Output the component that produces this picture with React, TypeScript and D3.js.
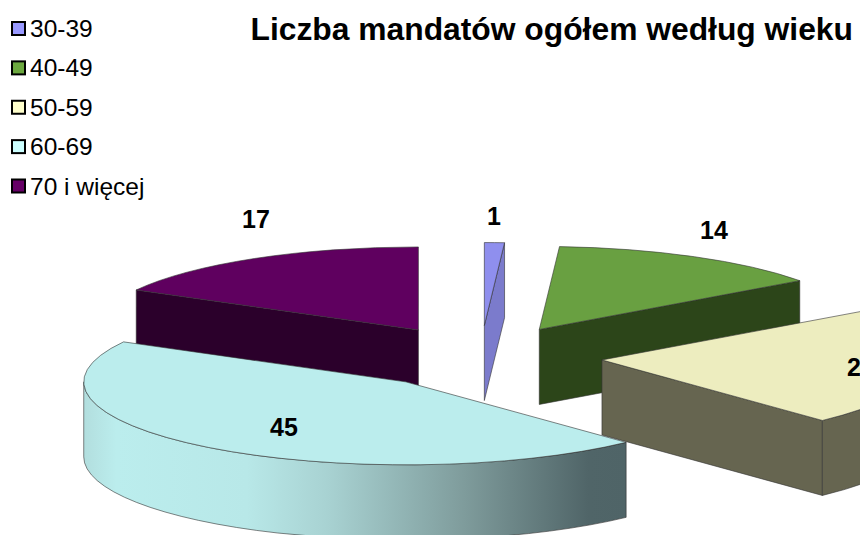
import React from "react";
import * as d3 from "d3";

// chart data
const categories = ["30-39", "40-49", "50-59", "60-69", "70 i więcej"];
const values = [1, 14, 23, 45, 17];
const topColors = ["#8F8FEE", "#69A041", "#EDEDBF", "#BBEDED", "#5F005F"];
const sideColors = ["#7B7BCC", "#2C4519", "#666550", "#4F6467", "#2B002B"];
const legendColors = ["#9999FF", "#6CA83F", "#FFFFCC", "#CCFFFF", "#660066"];
const drawOrder = [4, 0, 1, 2, 3];

// label anchors, [x, baseline y]
const labelPositions = [
  [494, 225],
  [714, 238.5],
  [847, 376],
  [284, 436],
  [256, 228],
];

const width = 860;
const height = 535;
const cx = 480.5;
const cy = 357;
const rx = 322;
const ry = 83;
const explode = 122;
const depth = 75;

const legendY = d3
  .scalePoint<string>()
  .domain(categories)
  .range([28.5, 186]);

const arcs = d3
  .pie<number>()
  .sort(null)
  .startAngle(0)
  .endAngle(2 * Math.PI)(values);

const project = (a: number, r = 1) => [
  r * rx * Math.sin(a),
  -r * ry * Math.cos(a),
];

const ellipseArc = (
  from: number[],
  to: number[],
  a0: number,
  a1: number,
  sweep: number
) => {
  const large = Math.abs(a1 - a0) > Math.PI ? 1 : 0;
  return `M${from[0]},${from[1]}A${rx},${ry} 0 ${large} ${sweep} ${to[0]},${to[1]}`;
};

const Slice = ({ arc, i }: { arc: d3.PieArcDatum<number>; i: number }) => {
  const { startAngle: a0, endAngle: a1 } = arc;
  const mid = (a0 + a1) / 2;
  const [ox, oy] = project(mid, explode / rx);
  const ax = cx + ox;
  const ay = cy + oy;
  const at = (a: number, dz = 0) => {
    const [x, y] = project(a);
    return [ax + x, ay + y + dz];
  };
  const p0 = at(a0);
  const p1 = at(a1);
  const top = `${ellipseArc(p0, p1, a0, a1, 1)}L${ax},${ay}Z`;

  const cutFace = (a: number) => {
    const p = at(a);
    return `M${ax},${ay}L${p[0]},${p[1]}L${p[0]},${p[1] + depth}L${ax},${ay + depth}Z`;
  };

  // only the front half of the rim can be seen
  const w0 = Math.max(a0, Math.PI / 2);
  const w1 = Math.min(a1, (3 * Math.PI) / 2);
  let wall: string | null = null;
  if (w1 > w0) {
    const f = at(w0);
    const t = at(w1);
    const tb = at(w1, depth);
    const fb = at(w0, depth);
    wall = `${ellipseArc(f, t, w0, w1, 1)}L${tb[0]},${tb[1]}${ellipseArc(
      tb,
      fb,
      w0,
      w1,
      0
    ).replace(/^M[^A]+/, "")}Z`;
  }

  const wallFill = i === 3 ? "url(#rimGradient)" : sideColors[i];
  const edge = { stroke: "#333", strokeWidth: 0.6, strokeLinejoin: "round" as const };

  return (
    <g>
      {Math.sin(a0) < -1e-6 && (
        <path d={cutFace(a0)} fill={sideColors[i]} {...edge} />
      )}
      {Math.sin(a1) > 1e-6 && (
        <path d={cutFace(a1)} fill={sideColors[i]} {...edge} />
      )}
      {wall && <path d={wall} fill={wallFill} {...edge} />}
      <path d={top} fill={topColors[i]} {...edge} />
    </g>
  );
};

export default function App() {
  return (
    <svg
      width={width}
      height={height}
      viewBox={`0 0 ${width} ${height}`}
      style={{ position: "absolute", left: 0, top: 0, display: "block", background: "#fff" }}
      fontFamily="'Liberation Sans', Arial, sans-serif"
    >
      <defs>
        <linearGradient id="rimGradient" x1="0" x2="1" y1="0" y2="0">
          <stop offset="0" stopColor="#B2DEDE" />
          <stop offset="0.06" stopColor="#BBEDED" />
          <stop offset="0.3" stopColor="#B8E8E8" />
          <stop offset="0.45" stopColor="#A8D2D2" />
          <stop offset="0.7" stopColor="#7F9C9C" />
          <stop offset="0.93" stopColor="#506568" />
          <stop offset="1" stopColor="#4F6467" />
        </linearGradient>
      </defs>

      {drawOrder.map((i) => (
        <Slice key={categories[i]} arc={arcs[i]} i={i} />
      ))}

      {values.map((v, i) => (
        <text
          key={categories[i]}
          x={labelPositions[i][0]}
          y={labelPositions[i][1]}
          textAnchor={i === 2 ? "start" : "middle"}
          fontSize={25}
          fontWeight="bold"
          fill="#000"
        >
          {v}
        </text>
      ))}

      {categories.map((c, i) => {
        const y = legendY(c) as number;
        return (
          <g key={c}>
            <rect
              x={12}
              y={y - 6.5}
              width={13}
              height={13}
              fill={legendColors[i]}
              stroke="#000"
              strokeWidth={2}
            />
            <text x={30} y={y + 8.5} fontSize={24.5} fill="#000">
              {c}
            </text>
          </g>
        );
      })}

      <text x={250.5} y={39.5} fontSize={31.8} fontWeight="bold" fill="#000">
        Liczba mandatów ogółem według wieku
      </text>
    </svg>
  );
}
